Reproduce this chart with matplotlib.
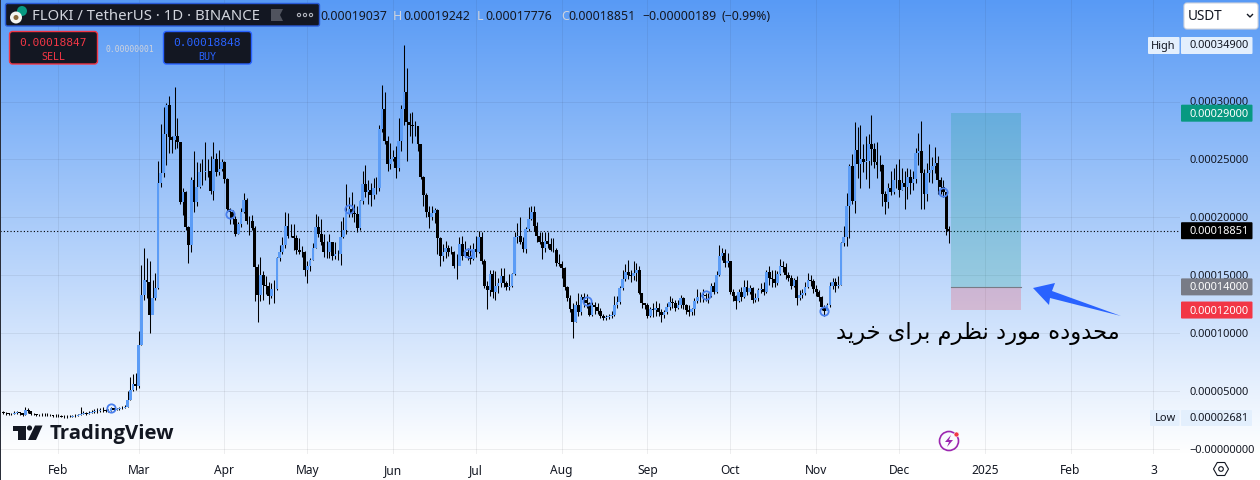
import matplotlib
matplotlib.use("Agg")
import matplotlib.pyplot as plt
import numpy as np
from matplotlib.patches import Circle, FancyBboxPatch, Polygon, Rectangle, RegularPolygon
from matplotlib.transforms import Affine2D, ScaledTranslation

# prices are in units of 0.00001 USDT, one value per daily bar from Jan 12
closes = [
    3.15, 3.10, 3.00, 3.05, 3.12, 3.20, 3.08, 2.95, 3.38, 3.25,
    3.05, 2.98, 2.95, 2.92, 2.95, 2.90, 2.93, 2.90, 2.82, 2.88,
    2.85, 2.80, 2.78, 2.78, 2.80, 2.85, 2.88, 2.92, 3.05, 3.08,
    3.05, 3.15, 3.20, 3.30, 3.25, 3.40, 3.35, 3.32, 3.30, 3.53,
    3.40, 3.45, 3.50, 3.55, 3.65, 4.25, 5.10, 5.60, 5.40, 9.00,
    13.3, 14.6, 14.4, 11.6, 13.0, 13.9, 23.0, 23.8, 27.2, 29.7,
    26.9, 26.7, 27.0, 26.5, 21.3, 22.2, 19.2, 17.6, 23.2, 21.3,
    22.6, 23.9, 23.9, 24.0, 24.0, 22.3, 25.0, 23.9, 24.2, 24.8,
    23.3, 20.7, 20.5, 19.9, 18.6, 19.4, 20.5, 21.5, 19.7, 19.7,
    19.1, 15.7, 13.3, 15.0, 14.2, 14.1, 13.2, 13.8, 13.8, 16.5,
    17.0, 17.6, 19.3, 18.4, 18.4, 18.2, 17.2, 17.0, 17.0, 15.5,
    15.8, 16.3, 17.4, 19.2, 18.6, 17.9, 17.0, 17.0, 17.9, 16.7,
    16.8, 16.8, 18.3, 18.9, 20.4, 20.7, 20.4, 20.3, 19.1, 21.4,
    22.9, 22.2, 22.4, 21.9, 22.5, 22.5, 27.6, 29.4, 26.6, 24.6,
    25.0, 25.2, 24.3, 26.6, 29.4, 30.8, 28.2, 28.0, 27.9, 27.9,
    26.3, 23.5, 21.9, 20.5, 20.0, 20.4, 20.6, 18.2, 16.7, 17.0,
    17.4, 17.0, 17.0, 15.8, 15.8, 17.7, 16.7, 17.0, 16.7, 16.4,
    17.3, 17.0, 18.3, 16.2, 14.1, 13.7, 15.1, 13.6, 14.1, 14.3,
    14.9, 14.3, 14.0, 14.1, 15.1, 18.3, 18.4, 17.9, 17.3, 19.0,
    19.9, 20.5, 19.3, 18.4, 17.9, 17.4, 18.0, 17.7, 17.2, 17.2,
    16.1, 16.0, 15.6, 14.0, 13.0, 12.1, 11.0, 12.4, 11.8, 13.1,
    12.9, 12.6, 11.6, 12.4, 12.3, 11.9, 11.5, 11.3, 11.4, 11.5,
    11.6, 12.4, 12.7, 13.9, 14.7, 15.3, 15.0, 14.9, 15.2, 15.5,
    13.5, 12.6, 12.4, 11.5, 12.1, 12.0, 12.2, 11.8, 11.6, 11.8,
    12.3, 12.7, 12.6, 12.2, 12.4, 13.0, 12.4, 12.0, 11.8, 12.1,
    12.8, 13.1, 13.1, 13.3, 13.2, 13.2, 14.1, 13.6, 15.0, 16.7,
    16.9, 16.1, 16.2, 13.6, 13.2, 12.8, 13.6, 13.1, 14.0, 13.6,
    13.9, 12.9, 13.0, 13.7, 13.8, 13.6, 15.3, 14.8, 14.7, 14.3,
    15.1, 15.8, 15.7, 15.0, 14.8, 14.1, 14.6, 13.0, 13.3, 13.5,
    14.0, 14.6, 14.5, 13.8, 13.6, 13.1, 12.3, 11.9, 12.4, 14.1,
    14.4, 14.1, 14.2, 17.8, 18.3, 21.0, 24.4, 21.4, 25.8, 24.6,
    25.0, 24.8, 24.9, 26.3, 25.9, 24.8, 24.5, 24.5, 22.0, 21.3,
    22.5, 22.2, 23.2, 23.2, 22.4, 23.0, 22.6, 23.5, 23.0, 23.3,
    25.6, 25.7, 23.8, 22.0, 23.8, 24.1, 24.4, 24.7, 23.2, 22.6,
    22.2, 19.037, 18.851,
]
highs = [
    3.3, 3.2, 3.15, 3.15, 3.25, 3.3, 3.2, 3.1, 3.6, 3.5,
    3.3, 3.1, 3.05, 3.05, 3.1, 3.1, 3.1, 3.05, 2.95, 3.05,
    3.0, 2.9, 2.9, 2.9, 2.9, 2.95, 3.0, 3.05, 3.6, 3.3,
    3.2, 3.3, 3.35, 3.45, 3.5, 3.55, 3.6, 3.45, 3.45, 3.65,
    3.5, 3.55, 3.6, 3.7, 3.8, 5.0, 6.2, 6.5, 6.6, 10.2,
    15.9, 17.4, 16.5, 16.2, 14.6, 15.2, 24.9, 28.1, 29.5, 29.9,
    30.5, 27.0, 31.3, 28.6, 26.5, 22.5, 22.3, 19.3, 23.5, 25.7,
    24.8, 24.7, 25.0, 26.5, 25.0, 25.3, 26.5, 25.6, 25.8, 25.0,
    24.9, 23.4, 20.8, 20.6, 20.1, 19.6, 20.8, 22.1, 21.7, 20.1,
    20.2, 19.3, 16.0, 16.6, 15.4, 14.9, 14.4, 14.3, 14.6, 16.6,
    17.6, 18.3, 20.5, 20.4, 19.4, 19.4, 18.5, 18.2, 17.5, 17.1,
    16.2, 16.5, 17.8, 20.3, 20.1, 19.9, 18.6, 18.0, 18.6, 17.9,
    17.9, 17.2, 19.7, 20.0, 22.9, 21.8, 22.2, 21.2, 21.0, 21.5,
    24.0, 24.5, 23.2, 23.0, 23.4, 23.5, 28.0, 31.4, 30.8, 27.0,
    26.4, 25.8, 26.2, 28.6, 29.7, 34.9, 32.9, 29.0, 29.1, 28.3,
    27.9, 26.3, 23.6, 22.1, 21.0, 21.0, 20.8, 20.7, 18.3, 17.7,
    18.0, 17.6, 17.5, 17.1, 16.8, 18.3, 18.4, 18.0, 17.4, 17.6,
    17.8, 18.4, 18.8, 18.7, 16.4, 14.5, 15.5, 15.5, 15.4, 14.8,
    15.6, 15.6, 14.5, 15.1, 15.2, 18.7, 19.5, 20.0, 18.3, 19.2,
    20.9, 21.0, 21.0, 19.6, 18.7, 18.7, 18.7, 18.7, 18.2, 18.2,
    17.4, 16.8, 16.2, 15.7, 14.1, 13.3, 12.6, 12.8, 13.5, 13.4,
    13.5, 13.4, 12.7, 12.7, 12.7, 12.6, 12.2, 11.7, 11.6, 11.7,
    11.9, 13.2, 13.2, 14.1, 15.5, 16.0, 16.3, 15.5, 16.2, 16.1,
    15.8, 13.5, 12.6, 12.6, 12.3, 12.6, 12.8, 12.6, 12.1, 12.0,
    12.6, 13.2, 13.0, 12.9, 12.9, 13.3, 13.1, 12.5, 12.4, 12.2,
    13.0, 13.8, 13.6, 13.8, 13.5, 13.5, 14.3, 14.4, 15.4, 17.6,
    17.4, 17.3, 16.9, 16.2, 13.8, 13.3, 13.8, 14.0, 14.6, 14.6,
    14.2, 14.0, 13.5, 13.9, 14.3, 14.4, 15.5, 15.8, 15.5, 15.5,
    15.4, 16.4, 16.2, 16.1, 15.3, 15.0, 14.8, 14.9, 13.7, 13.8,
    14.4, 15.2, 15.0, 14.7, 14.2, 13.7, 13.2, 12.4, 12.6, 14.4,
    14.8, 14.8, 14.9, 17.9, 19.3, 22.1, 24.6, 25.5, 28.2, 27.8,
    28.0, 26.3, 27.0, 27.2, 28.8, 26.4, 26.5, 25.4, 24.6, 22.3,
    23.0, 24.0, 24.3, 24.6, 25.0, 24.3, 24.0, 24.3, 24.2, 24.0,
    26.0, 27.3, 28.3, 24.2, 24.7, 26.3, 25.2, 26.1, 25.3, 23.5,
    23.2, 22.0, 19.242,
]
lows = [
    3.0, 2.95, 2.9, 2.95, 3.0, 3.05, 2.95, 2.85, 2.95, 3.1,
    2.95, 2.9, 2.85, 2.85, 2.85, 2.85, 2.85, 2.85, 2.75, 2.8,
    2.75, 2.75, 2.70, 2.681, 2.75, 2.75, 2.8, 2.85, 2.9, 3.0,
    2.95, 3.0, 3.1, 3.15, 3.15, 3.2, 3.2, 3.2, 3.2, 3.25,
    3.3, 3.35, 3.4, 3.45, 3.5, 3.6, 4.2, 5.0, 5.1, 5.3,
    9.0, 12.9, 13.0, 10.0, 11.8, 12.9, 13.8, 22.6, 23.5, 24.5,
    25.6, 25.6, 25.9, 26.0, 21.2, 20.2, 18.9, 16.1, 17.0, 20.5,
    21.0, 22.5, 22.8, 23.2, 23.5, 22.0, 21.5, 23.6, 23.7, 24.0,
    23.0, 20.5, 19.4, 19.4, 18.4, 18.6, 19.2, 20.4, 19.4, 18.5,
    18.9, 12.8, 11.0, 12.8, 12.9, 13.4, 12.5, 13.0, 12.6, 13.7,
    16.2, 16.8, 17.4, 18.2, 18.3, 17.2, 16.8, 16.8, 16.6, 14.9,
    14.3, 15.4, 16.3, 17.4, 18.3, 17.6, 16.6, 16.5, 16.5, 16.3,
    16.4, 16.3, 15.9, 18.2, 18.6, 20.0, 20.0, 19.6, 18.7, 18.9,
    21.2, 21.8, 21.2, 21.0, 21.6, 22.0, 22.3, 27.4, 26.3, 24.0,
    24.2, 24.9, 23.4, 24.0, 25.7, 28.0, 24.9, 27.0, 26.4, 27.0,
    25.7, 23.3, 21.0, 20.0, 19.1, 19.8, 19.5, 16.8, 15.8, 16.2,
    16.5, 16.7, 16.8, 15.6, 14.7, 15.9, 16.3, 16.6, 16.3, 16.0,
    16.3, 16.6, 16.9, 16.0, 13.9, 12.1, 13.2, 13.0, 12.9, 13.5,
    14.0, 14.0, 13.7, 13.7, 14.0, 15.0, 17.8, 17.7, 17.0, 16.9,
    18.8, 19.8, 18.8, 17.9, 17.7, 16.4, 17.0, 17.4, 17.1, 17.0,
    15.8, 15.8, 14.8, 13.7, 12.8, 11.8, 9.6, 11.0, 11.5, 11.6,
    12.3, 12.2, 11.5, 11.5, 11.7, 11.7, 11.3, 11.1, 11.1, 11.2,
    11.3, 11.5, 12.2, 12.5, 13.7, 14.5, 14.7, 14.4, 14.6, 14.5,
    13.4, 12.2, 12.1, 11.3, 11.4, 11.4, 11.5, 11.5, 11.0, 11.3,
    11.7, 12.0, 12.2, 11.9, 12.1, 12.2, 12.1, 11.7, 11.5, 11.6,
    11.6, 12.6, 12.7, 12.7, 12.8, 12.6, 13.1, 13.4, 13.5, 14.9,
    16.3, 15.7, 15.7, 13.4, 12.8, 12.1, 12.7, 12.8, 13.0, 13.3,
    13.4, 12.6, 12.7, 12.8, 13.5, 13.3, 13.5, 14.2, 14.0, 14.0,
    14.2, 15.0, 15.3, 14.7, 14.5, 13.8, 14.0, 12.4, 12.9, 13.0,
    13.3, 13.9, 14.1, 13.5, 13.2, 12.8, 12.0, 11.5, 12.0, 12.3,
    13.8, 13.6, 13.9, 14.2, 17.5, 17.5, 18.2, 21.2, 20.4, 23.4,
    22.5, 23.9, 23.3, 22.5, 24.5, 24.3, 23.4, 24.0, 21.0, 20.3,
    20.8, 21.9, 22.0, 22.5, 21.8, 22.4, 20.7, 21.6, 22.0, 22.4,
    23.0, 24.5, 20.7, 20.7, 21.4, 23.1, 23.0, 23.8, 22.0, 22.0,
    21.8, 18.5, 17.776,
]
first_open = 3.2

marker_bars = [39, 82, 125, 168, 211, 254, 297, 340]
marker_prices = [3.53, 20.3, 20.7, 16.9, 12.75, 13.3, 11.9, 22.2]

price_ticks = [0, 5, 10, 15, 20, 25, 30]
price_labels = ["−0.00000000", "0.00005000", "0.00010000", "0.00015000",
                "0.00020000", "0.00025000", "0.00030000"]
month_bars = [20, 49, 80, 110, 141, 171, 202, 233, 263, 294, 324, 355, 386, 416]
month_labels = ["Feb", "Mar", "Apr", "May", "Jun", "Jul", "Aug", "Sep", "Oct",
                "Nov", "Dec", "2025", "Feb", "3"]

last_price = 18.851
target_price = 29.0
entry_price = 14.0
stop_price = 12.0
tool_start, tool_end = 342.8, 368.1

note_fa = "محدوده مورد نظرم برای خرید"

W, H = 1260, 481
FONT = "Noto Sans"
INK = "#131722"
TICK_PX = 11
plt.rcParams["font.family"] = [FONT, "DejaVu Sans"]

# isolated, final, initial, medial forms; matplotlib does no Arabic shaping
FORMS = {
    "م": "\ufee1\ufee2\ufee3\ufee4", "ح": "\ufea1\ufea2\ufea3\ufea4",
    "د": "\ufea9\ufeaa\ufea9\ufeaa", "و": "\ufeed\ufeee\ufeed\ufeee",
    "ه": "\ufee9\ufeea\ufeeb\ufeec", "ر": "\ufead\ufeae\ufead\ufeae",
    "ن": "\ufee5\ufee6\ufee7\ufee8", "ظ": "\ufec5\ufec6\ufec7\ufec8",
    "ب": "\ufe8f\ufe90\ufe91\ufe92", "ا": "\ufe8d\ufe8e\ufe8d\ufe8e",
    "ی": "\ufbfc\ufbfd\ufbfe\ufbff", "خ": "\ufea5\ufea6\ufea7\ufea8",
}
NO_NEXT = set("ادرو")


def shape_fa(text):
    out = []
    for k, ch in enumerate(text):
        if ch not in FORMS:
            out.append(ch)
            continue
        prev = text[k - 1] if k else " "
        nxt = text[k + 1] if k + 1 < len(text) else " "
        joins_prev = prev in FORMS and prev not in NO_NEXT
        joins_next = nxt in FORMS and ch not in NO_NEXT
        idx = {(0, 0): 0, (1, 0): 1, (0, 1): 2, (1, 1): 3}[(joins_prev, joins_next)]
        out.append(FORMS[ch][idx])
    return "".join(reversed(out))


fig = plt.figure(figsize=(W / 100, H / 100), dpi=100, facecolor="white")
px = Affine2D().scale(1 / W, -1 / H).translate(0, 1) + fig.transFigure


def put(x, y, s, size, color=INK, ha="left", **kw):
    return fig.text(x, y, s, transform=px, fontsize=size * 0.72, color=color,
                    ha=ha, va="center", zorder=6, **kw)


def box(x0, y0, x1, y1, fc, ec="none", lw=0, r=2):
    p = FancyBboxPatch((x0, y0), x1 - x0, y1 - y0, boxstyle=f"round,pad=0,rounding_size={r}",
                       fc=fc, ec=ec, lw=lw, transform=px, zorder=5)
    fig.add_artist(p)


# background gradient also runs behind the price scale
bg = fig.add_axes([0, 26 / H, 1, 455 / H], zorder=-1)
top, bottom = np.array([88, 154, 245]) / 255, np.array([255, 255, 255]) / 255
t = np.linspace(0, 1, 256)[:, None, None]
bg.imshow(top + (bottom - top) * t, aspect="auto")
bg.axis("off")

ax = fig.add_axes([0, 26 / H, 1180 / W, 455 / H])
ax.patch.set_alpha(0)
ax.set_xlim(-1.157, 425.6)
ax.set_ylim(-0.432, 38.86)
for s in ax.spines.values():
    s.set_visible(False)
ax.yaxis.tick_right()
ax.set_yticks(price_ticks, price_labels, fontsize=TICK_PX * 0.72, color=INK)
ax.set_xticks(month_bars, month_labels, fontsize=12 * 0.72, color=INK)
ax.tick_params(length=0)
ax.tick_params(axis="y", pad=6.5)
ax.tick_params(axis="x", pad=6.5)
ax.get_xticklabels()[11].set_fontweight("bold")
# price labels sit about a pixel above their grid lines
for lab in ax.get_yticklabels():
    lab.set_transform(lab.get_transform() + ScaledTranslation(0, 1.3 / 100, fig.dpi_scale_trans))
ax.grid(True, color="#2a2e39", alpha=0.08, linewidth=0.75)
ax.set_axisbelow(True)

c = np.array(closes)
o = np.concatenate([[first_open], c[:-1]])
hi = np.array(highs)
lo = np.array(lows)
bars = np.arange(len(c))
up = c >= o

ax.vlines(bars, lo, hi, color="black", linewidth=0.75, zorder=3)
ax.bar(bars[up], (c - o)[up], bottom=o[up], width=0.95, color="#5b9cf6", zorder=4)
ax.bar(bars[~up], (c - o)[~up], bottom=o[~up], width=1.05, color="black", zorder=4)
ax.plot(marker_bars, marker_prices, "o", ms=6, mfc="none", mec="#4a80ee", mew=1.3, zorder=5)

ax.axhline(last_price, color="black", linewidth=0.8, linestyle=(0, (1, 2)), zorder=2)

# long position tool
ax.add_patch(Rectangle((tool_start, entry_price), tool_end - tool_start, target_price - entry_price,
                       fc="#089981", alpha=0.22, ec="none", zorder=2))
ax.add_patch(Rectangle((tool_start, stop_price), tool_end - tool_start, entry_price - stop_price,
                       fc="#f23645", alpha=0.22, ec="none", zorder=2))
ax.plot([tool_start, tool_end], [entry_price, entry_price], color="#787b86", linewidth=0.8, zorder=3)

# arrow and note
fig.add_artist(Polygon([(1033, 289), (1055, 284), (1052, 292), (1121, 317), (1050, 299), (1049, 306)],
                       closed=True, fc="#2962ff", ec="none", transform=px, zorder=4))
put(977.5, 334, shape_fa(note_fa), 22.6, color="black", ha="center", family="DejaVu Sans")


# price tags on the right
def tag(value, label, color):
    y = H - ax.transData.transform((0, value))[1]
    box(1181, y - 8.5, 1252.5, y + 8.5, color, r=1)
    put(1189, y, label, TICK_PX, color="white")


tag(target_price, "0.00029000", "#089981")
tag(last_price, "0.00018851", "black")
tag(entry_price, "0.00014000", "#787b86")
tag(stop_price, "0.00012000", "#f23645")

box(1148, 38, 1179.5, 55, "#e3effd", r=1)
put(1163.5, 46, "High", TICK_PX, ha="center")
box(1181, 38, 1252.5, 55, "#e3effd", r=1)
put(1189, 46, "0.00034900", TICK_PX)
box(1150, 411, 1179.5, 427, "#e3effd", r=1)
put(1165, 419, "Low", TICK_PX, ha="center")
box(1181, 411, 1252, 427, "#e3effd", r=1)
put(1189, 419, "0.00002681", TICK_PX)

box(1184, 4, 1258, 30, "white", ec="#d1d4dc", lw=0.8, r=3)
put(1188, 17, "USDT", 13.5)
fig.add_artist(plt.Line2D([1247.5, 1250, 1252.5], [15.5, 18, 15.5], color=INK, lw=1, transform=px, zorder=6))

# legend panel
box(5.5, 4.5, 319.5, 27, "#131722", ec="#2a5bd7", lw=1, r=2)
fig.add_artist(Circle((22, 12), 5, fc="#089981", ec="none", transform=px, zorder=6))
fig.add_artist(Circle((16, 18.5), 6, fc="#f5f5f0", ec="none", transform=px, zorder=6))
fig.add_artist(Circle((16, 18.5), 2.5, fc="#8a6a3c", ec="none", transform=px, zorder=6))
put(32, 16.5, "FLOKI / TetherUS · 1D · BINANCE", 14.9, color="#d1d4dc")
fig.add_artist(Polygon([(271, 10), (283, 10), (280, 16), (283, 22), (271, 22)], closed=True,
                       fc="#50535e", ec="none", transform=px, zorder=6))
for dx in (299, 305, 311):
    fig.add_artist(Circle((dx, 16), 1.6, fc="none", ec="#b2b5be", lw=0.8, transform=px, zorder=6))

ohlc = [(320, "0.00019037", INK), (393, "H", "#d1d4dc"), (403, "0.00019242", INK),
        (477, "L", "#d1d4dc"), (485, "0.00017776", INK), (561, "C", "#d1d4dc"),
        (568, "0.00018851", INK), (642, "−0.00000189", INK), (721, "(−0.99%)", INK)]
for x, s, col in ohlc:
    put(x, 16.5, s, 12.3, color=col)

# buy / sell buttons
box(9.5, 32.5, 97.5, 65, "#131722", ec="#f23645", lw=1, r=3)
put(53.5, 42.5, "0.00018847", 11.2, color="#f23645", ha="center", family="DejaVu Sans Mono")
put(53.5, 57, "SELL", 10, color="#f23645", ha="center", family="DejaVu Sans Mono")
box(163.5, 32.5, 251.5, 65, "#131722", ec="#2962ff", lw=1, r=3)
put(207.5, 42.5, "0.00018848", 11.2, color="#2962ff", ha="center", family="DejaVu Sans Mono")
put(207.5, 57, "BUY", 10, color="#2962ff", ha="center", family="DejaVu Sans Mono")
put(130, 49.5, "0.00000001", 8, color="#d1d4dc", ha="center", family="DejaVu Sans Mono")

# TradingView logo
fig.add_artist(Polygon([(13, 426.5), (26, 426.5), (26, 441), (17.5, 441), (17.5, 432), (13, 432)], closed=True,
                       fc=INK, ec="none", transform=px, zorder=6))
fig.add_artist(Circle((29.5, 429), 2.6, fc=INK, ec="none", transform=px, zorder=6))
fig.add_artist(Polygon([(35, 426.5), (42.5, 426.5), (36, 441), (28, 441)], closed=True,
                       fc=INK, ec="none", transform=px, zorder=6))
put(50, 434, "TradingView", 20.4, fontweight="bold", family="Open Sans")

# bolt icon and settings hexagon
fig.add_artist(Circle((949, 442), 9.5, fc="none", ec="#9c27b0", lw=1.2, transform=px, zorder=6))
fig.add_artist(Polygon([(951, 436), (945, 443), (949, 443), (947, 448), (953, 441), (949, 441)], closed=True,
                       fc="#9c27b0", ec="none", transform=px, zorder=6))
fig.add_artist(Circle((956.5, 435.5), 2.5, fc="#f23645", ec="white", lw=0.4, transform=px, zorder=7))
fig.add_artist(RegularPolygon((1221, 470), 6, radius=7.5, orientation=np.pi / 6, fc="none", ec=INK, lw=0.8,
                              transform=px, zorder=6))
fig.add_artist(Circle((1221, 470), 2.3, fc="none", ec=INK, lw=0.8, transform=px, zorder=6))

# left border of the pane
fig.add_artist(Rectangle((0, 0), 1.2, 481, fc="#2a2e39", ec="none", transform=px, zorder=7))

fig.savefig("out.png", dpi=100)
